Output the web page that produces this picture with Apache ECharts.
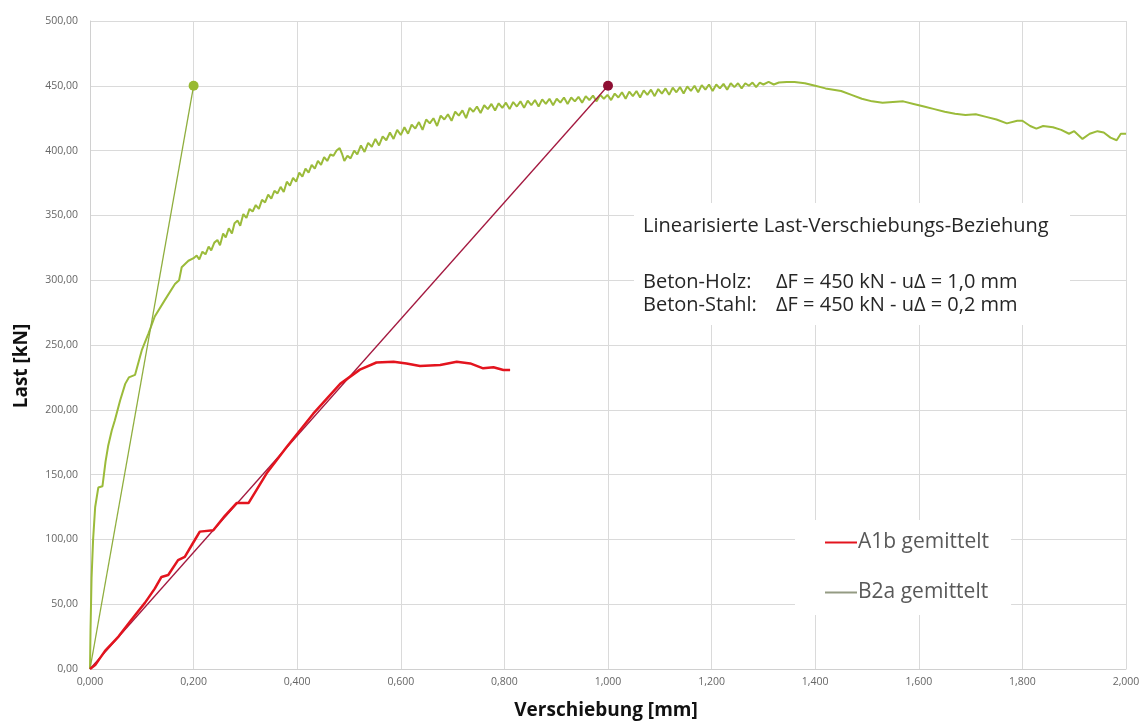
<!DOCTYPE html>
<html>
<head>
<meta charset="utf-8">
<script src="https://cdn.jsdelivr.net/npm/echarts@6/dist/echarts.min.js"></script>
<style>
  html, body { margin: 0; padding: 0; background: #fff; }
  #chart { width: 1145px; height: 724px; }
</style>
</head>
<body>
<div id="chart"></div>
<script>
var a1bDisp = [0, 0.01, 0.029, 0.055, 0.08, 0.106, 0.125, 0.138, 0.151, 0.17, 0.183, 0.2, 0.212, 0.238, 0.26, 0.283, 0.306,
  0.341, 0.38, 0.431, 0.483, 0.521, 0.553, 0.586, 0.611, 0.637, 0.676, 0.708, 0.734, 0.759, 0.779, 0.798, 0.811];
var a1bLoad = [0, 3, 14, 25, 38, 51, 62, 71, 72.5, 84, 86.6, 98, 106, 107, 118, 128, 128,
  151, 171.5, 197, 220, 231, 236.5, 237, 235.8, 233.8, 234.6, 237, 235.8, 232, 232.8, 230.7, 230.7];

var b2aDisp = [0, 0.001, 0.003, 0.006, 0.01, 0.016, 0.024, 0.03, 0.035, 0.042, 0.048, 0.058, 0.068, 0.075, 0.087, 0.1, 0.113,
  0.125, 0.145, 0.164, 0.172, 0.177, 0.19,
  0.2, 0.206, 0.211, 0.217, 0.223, 0.229, 0.234, 0.24, 0.246, 0.251, 0.257, 0.262, 0.268, 0.274, 0.279, 0.285, 0.29, 0.296,
  0.302, 0.308, 0.314, 0.32, 0.326, 0.332, 0.338, 0.344, 0.35, 0.356, 0.362, 0.368, 0.374, 0.38, 0.386, 0.392, 0.398,
  0.404, 0.41, 0.416, 0.422, 0.428, 0.434, 0.44, 0.446, 0.452, 0.458, 0.464, 0.47, 0.476, 0.482, 0.487, 0.491, 0.497,
  0.503, 0.51, 0.516, 0.523, 0.53, 0.537, 0.544, 0.551, 0.558, 0.565, 0.572, 0.579, 0.586, 0.593, 0.6, 0.607, 0.614,
  0.621, 0.628, 0.635, 0.642, 0.649, 0.656, 0.663, 0.67, 0.677, 0.684, 0.691, 0.698, 0.705, 0.712, 0.719, 0.726, 0.733,
  0.74, 0.747, 0.754, 0.761, 0.768, 0.775, 0.782, 0.789, 0.796, 0.803, 0.81, 0.817, 0.824, 0.831, 0.838, 0.845, 0.852,
  0.859, 0.866, 0.873, 0.88, 0.887, 0.894, 0.901, 0.908, 0.915, 0.922, 0.929, 0.936, 0.943, 0.95, 0.957, 0.964, 0.971,
  0.978, 0.985, 0.992, 0.999, 1.006, 1.013, 1.02, 1.027, 1.034, 1.041, 1.048, 1.055, 1.062, 1.069, 1.076, 1.083, 1.09,
  1.097, 1.104, 1.111, 1.118, 1.125, 1.132, 1.139, 1.146, 1.153, 1.16, 1.167, 1.174, 1.181, 1.188, 1.195, 1.202, 1.209,
  1.216, 1.223, 1.23, 1.237, 1.244, 1.251, 1.258, 1.265, 1.272, 1.279, 1.286, 1.293, 1.3, 1.31, 1.32, 1.33, 1.345, 1.36,
  1.38, 1.4, 1.42, 1.45, 1.47, 1.49, 1.51, 1.53, 1.55, 1.57, 1.59, 1.61, 1.63, 1.65, 1.67, 1.69, 1.71, 1.73, 1.75, 1.77,
  1.79, 1.8, 1.815, 1.827, 1.84, 1.859, 1.875, 1.89, 1.9, 1.916, 1.93, 1.945, 1.957, 1.97, 1.982, 1.99, 2.0];
var b2aLoad = [0, 30, 70, 100, 125, 140, 141, 160, 172, 184, 192, 207, 220, 225, 227, 246, 259,
  272, 285, 297, 300, 310, 315,
  317, 319, 316, 322, 320, 326, 323, 329, 331, 327, 336, 333, 340, 336, 344, 346, 342, 351,
  348, 355, 353, 358, 355, 362, 360, 366, 363, 369, 367, 372, 368, 376, 373, 379, 376,
  383, 380, 386, 383, 389, 386, 392, 389, 395, 392, 397, 396, 400, 402, 397, 392, 396,
  394, 400, 397, 404, 399, 406, 403, 409, 404, 411, 408, 414, 409, 416, 412, 418, 413,
  420, 417, 422, 416, 424, 421, 425, 419, 427, 424, 428, 423, 430, 427, 431, 425, 433,
  430, 434, 429, 435, 432, 436, 431, 436.5, 433, 437, 432, 437.5, 434, 438, 433, 438.5, 435,
  439, 434, 439.5, 436, 440, 435, 440, 437, 441, 436, 441, 438, 441.5, 437, 442, 439, 442.5,
  438, 443, 440, 443, 439, 444, 441, 445, 440, 445.5, 442, 446, 441, 446.5, 443, 447, 442,
  447.5, 444, 448, 443, 448.5, 445, 449, 444, 449.5, 446, 450, 445, 450.5, 447, 451, 446, 451,
  448, 451.5, 447, 452, 449, 452, 448, 452, 450, 452.5, 449, 452.5, 451, 453, 451, 452.5, 453, 453,
  452, 450, 448, 446, 443, 440, 438, 437, 437.5, 438, 436, 434, 432, 430, 428.5, 427.5, 428, 426, 424, 421,
  423, 423, 419, 417, 419, 418, 416, 413, 415, 409, 413, 415, 414, 410, 408, 413, 413];

// Linearisierte Beziehungen
var holzDisp = [0, 1.0];
var holzLoad = [0, 450];
var stahlDisp = [0, 0.2];
var stahlLoad = [0, 450];

var xTickStep = 0.2;
var yTickStep = 50;

function pairs(xs, ys) {
  return xs.map(function (x, i) { return [x, ys[i]]; });
}
function linePairs(xs, ys) {
  var d = pairs(xs, ys);
  d[d.length - 1] = { value: d[d.length - 1], symbol: 'circle', symbolSize: 10 };
  return d;
}

var font = "'Open Sans', 'Noto Sans', sans-serif";
var chart = echarts.init(document.getElementById('chart'));
var option = {
  animation: false,
  backgroundColor: '#fff',
  textStyle: { fontFamily: font },
  grid: { left: 90, right: 19, top: 21, bottom: 55 },
  legend: {
    left: 795,
    top: 520,
    orient: 'vertical',
    itemGap: 29,
    itemWidth: 32,
    itemHeight: 2,
    icon: 'rect',
    padding: [12, 22, 12, 30],
    backgroundColor: '#fff',
    textStyle: { fontSize: 21, color: '#595959', fontFamily: font, padding: [0, 0, 0, -4] },
    data: [
      { name: 'A1b gemittelt', itemStyle: { color: '#E3141E' } },
      { name: 'B2a gemittelt', itemStyle: { color: '#949B83' } }
    ]
  },
  xAxis: {
    type: 'value',
    min: 0,
    max: 2,
    interval: xTickStep,
    axisLine: { lineStyle: { color: '#D0D0D0' } },
    axisTick: { show: false },
    splitLine: { lineStyle: { color: '#DADADA' } },
    axisLabel: {
      color: '#666', fontSize: 10.5, margin: 8,
      formatter: function (v) { return v.toFixed(3).replace('.', ','); }
    }
  },
  yAxis: {
    type: 'value',
    min: 0,
    max: 500,
    interval: yTickStep,
    axisLine: { show: true, lineStyle: { color: '#D0D0D0' } },
    axisTick: { show: false },
    splitLine: { lineStyle: { color: '#DADADA' } },
    axisLabel: {
      color: '#666', fontSize: 10.5, margin: 12,
      formatter: function (v) { return v.toFixed(2).replace('.', ','); }
    }
  },
  series: [
    {
      name: 'Beton-Holz',
      type: 'line',
      data: linePairs(holzDisp, holzLoad),
      symbol: 'none',
      showSymbol: true,
      lineStyle: { color: '#A3183F', width: 1.3 },
      itemStyle: { color: '#8E0F33' },
      z: 3
    },
    {
      name: 'Beton-Stahl',
      type: 'line',
      data: linePairs(stahlDisp, stahlLoad),
      symbol: 'none',
      showSymbol: true,
      lineStyle: { color: '#8FAE3E', width: 1.3 },
      itemStyle: { color: '#98BA32' },
      z: 3
    },
    {
      name: 'B2a gemittelt',
      type: 'line',
      data: pairs(b2aDisp, b2aLoad),
      showSymbol: false,
      lineStyle: { color: '#9BBB3A', width: 2 },
      itemStyle: { color: '#9BBB3A' },
      z: 2
    },
    {
      name: 'A1b gemittelt',
      type: 'line',
      data: pairs(a1bDisp, a1bLoad),
      showSymbol: false,
      lineStyle: { color: '#E3141E', width: 2.5 },
      itemStyle: { color: '#E3141E' },
      z: 4
    }
  ],
  graphic: [
    { type: 'rect', z: 1, shape: { x: 634, y: 203, width: 436, height: 122 }, style: { fill: '#fff' } },
    { type: 'text', z: 2, left: 643, top: 216, style: { text: 'Linearisierte Last-Verschiebungs-Beziehung', fontSize: 20, fill: '#262626', fontFamily: font } },
    { type: 'text', z: 2, left: 643, top: 272, style: { text: 'Beton-Holz:', fontSize: 20, fill: '#262626', fontFamily: font } },
    { type: 'text', z: 2, left: 776, top: 272, style: { text: 'ΔF = 450 kN - uΔ = 1,0 mm', fontSize: 20, fill: '#262626', fontFamily: font } },
    { type: 'text', z: 2, left: 643, top: 295, style: { text: 'Beton-Stahl:', fontSize: 20, fill: '#262626', fontFamily: font } },
    { type: 'text', z: 2, left: 776, top: 295, style: { text: 'ΔF = 450 kN - uΔ = 0,2 mm', fontSize: 20, fill: '#262626', fontFamily: font } },
    { type: 'text', z: 2, x: 22, y: 366, rotation: Math.PI / 2,
      style: { text: 'Last [kN]', fontSize: 19, fontWeight: 'bold', fill: '#111', fontFamily: font, align: 'center', verticalAlign: 'middle' } },
    { type: 'text', z: 2, x: 606, y: 711,
      style: { text: 'Verschiebung [mm]', fontSize: 19, fontWeight: 'bold', fill: '#111', fontFamily: font, align: 'center', verticalAlign: 'middle' } }
  ]
};
chart.setOption(option);
</script>
</body>
</html>
